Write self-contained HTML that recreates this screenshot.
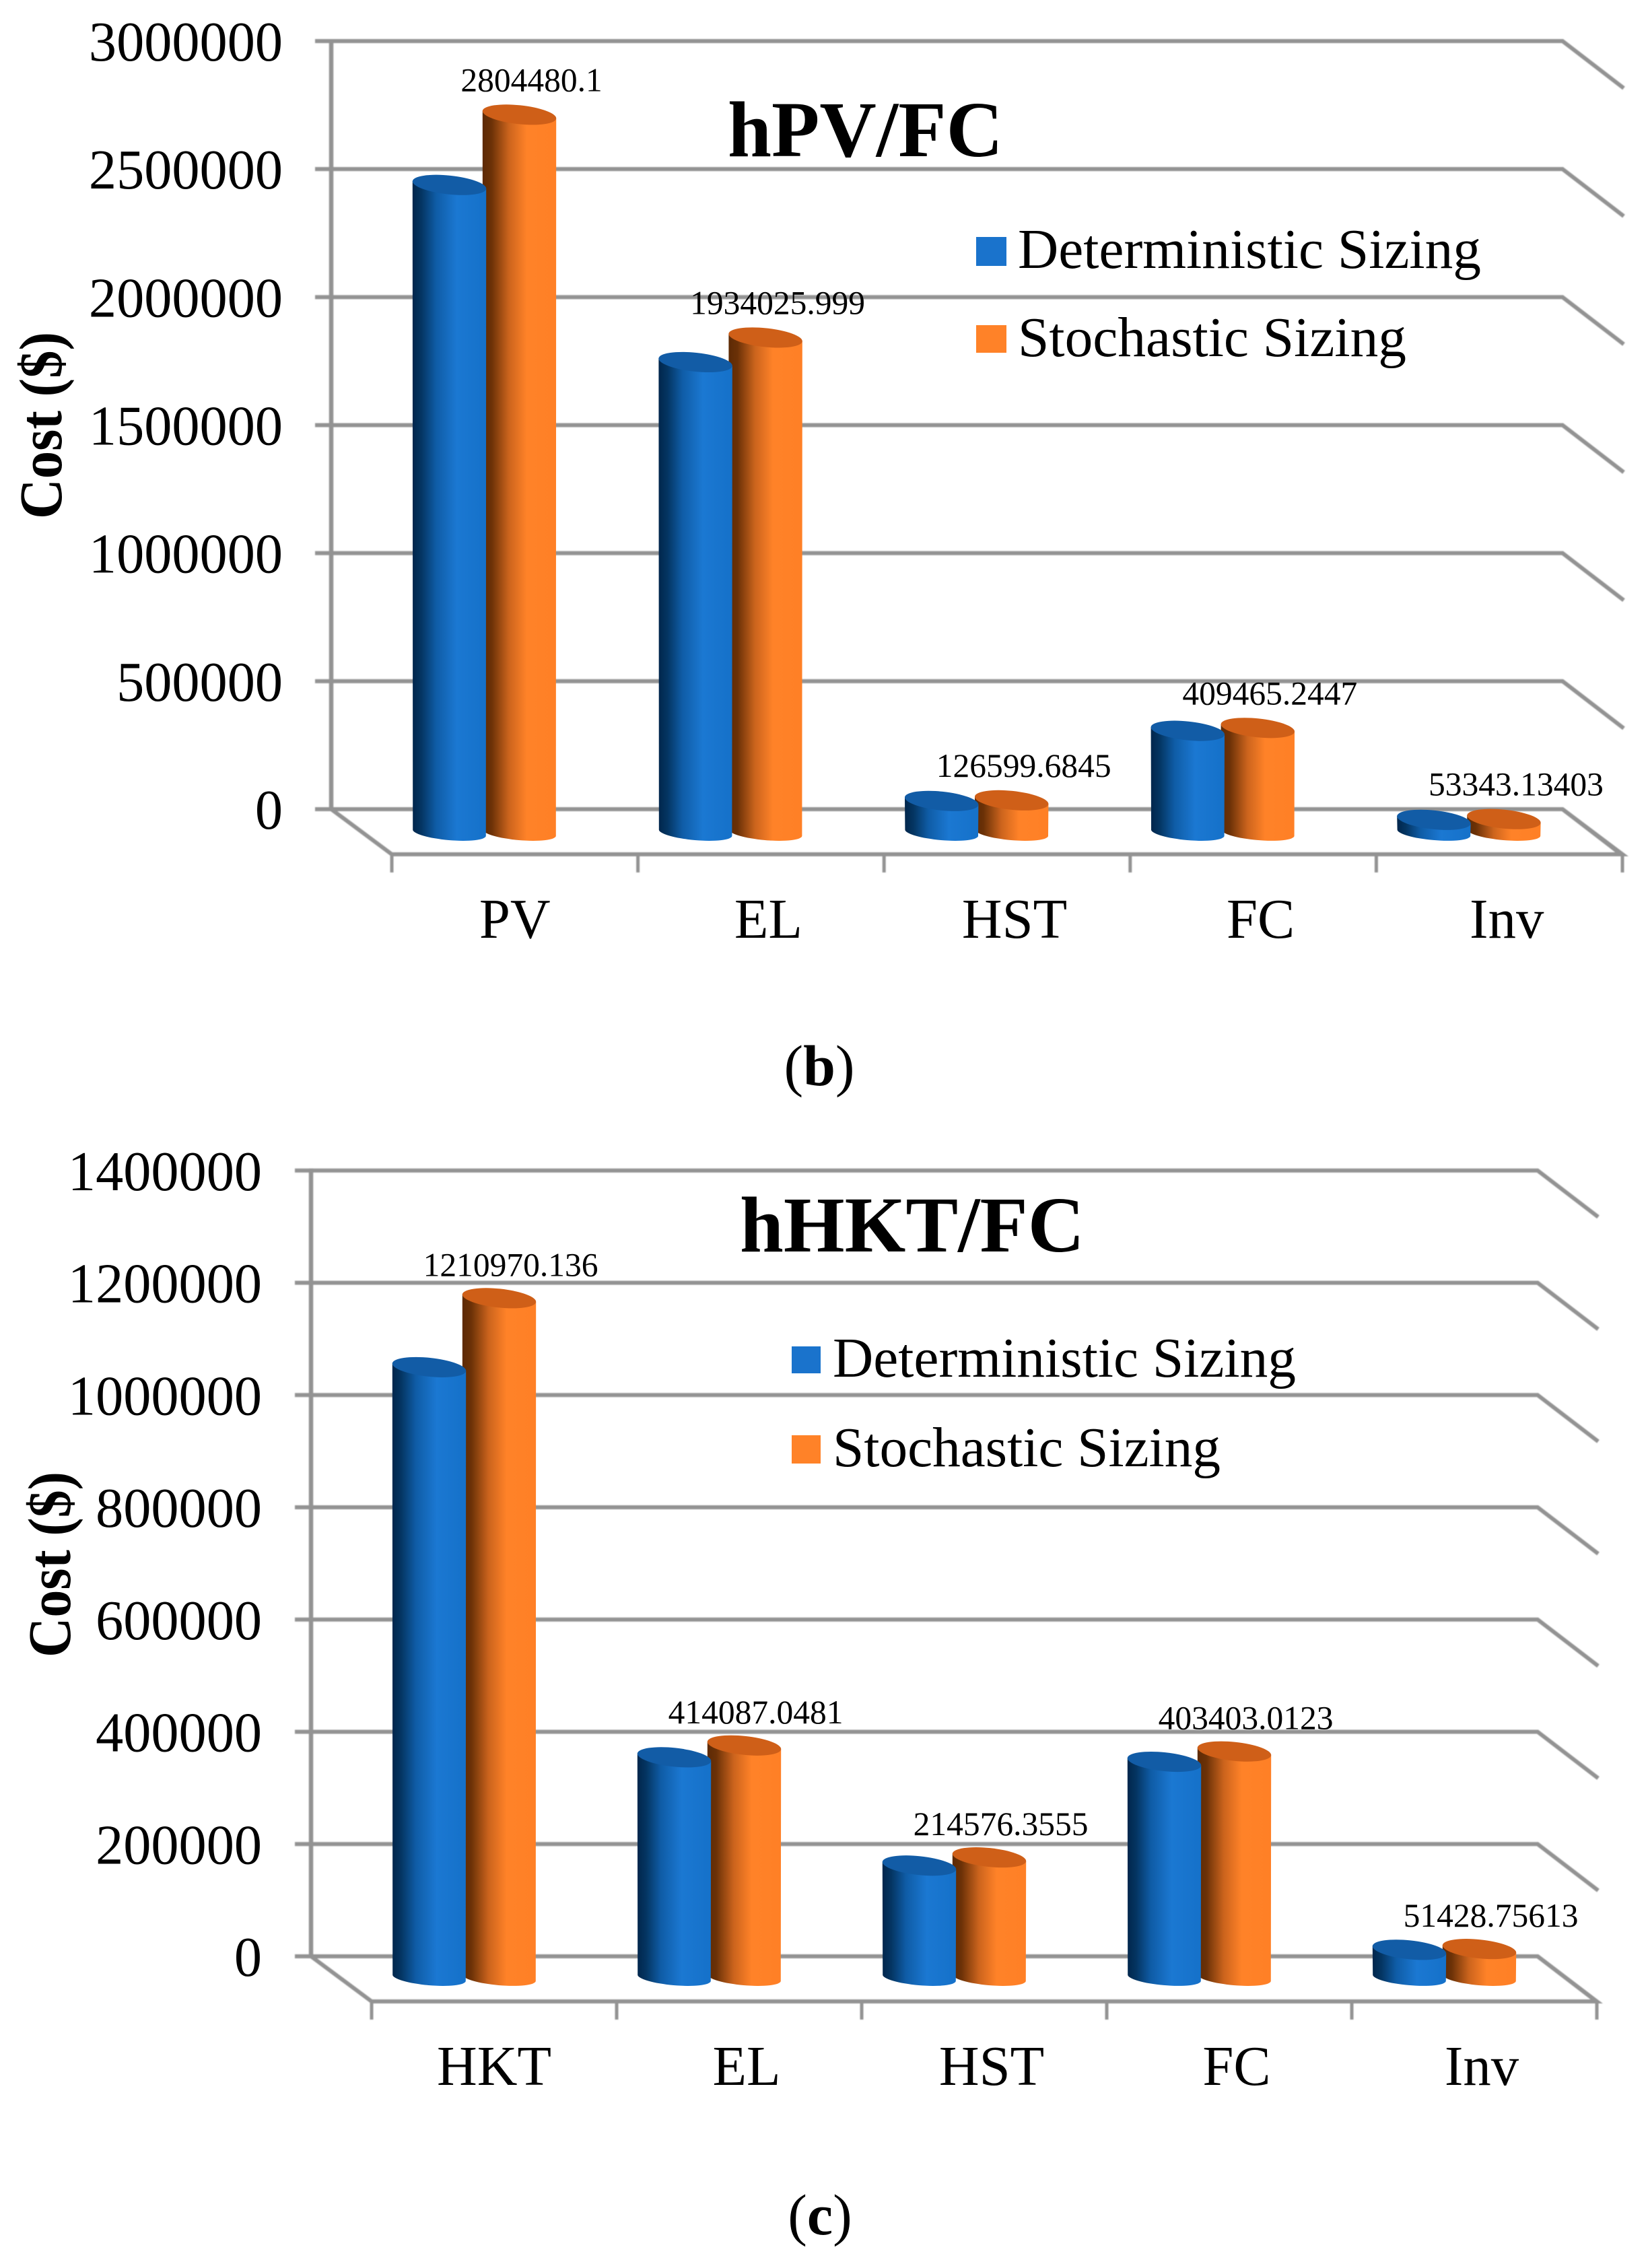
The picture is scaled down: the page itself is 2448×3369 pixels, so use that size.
<!DOCTYPE html>
<html lang="en">
<head>
<meta charset="utf-8">
<title>Cost comparison of deterministic and stochastic sizing</title>
<style>
html,body{margin:0;padding:0;background:#fff;}
svg{display:block;}
text{font-family:"Liberation Serif",serif;fill:#000;}
.bold{font-weight:bold;}
</style>
</head>
<body>
<svg id="figure" xmlns="http://www.w3.org/2000/svg" width="2448" height="3369" viewBox="0 0 2448 3369">
  <defs>
    <linearGradient id="blueBody" x1="0" x2="1" y1="0" y2="0">
      <stop offset="0" stop-color="#01264c"/>
      <stop offset="0.12" stop-color="#043562"/>
      <stop offset="0.32" stop-color="#0f5ca6"/>
      <stop offset="0.6" stop-color="#1b78d2"/>
      <stop offset="1" stop-color="#1571c9"/>
    </linearGradient>
    <linearGradient id="orangeBody" x1="0" x2="1" y1="0" y2="0">
      <stop offset="0" stop-color="#5d2a05"/>
      <stop offset="0.12" stop-color="#6b3107"/>
      <stop offset="0.36" stop-color="#cc641d"/>
      <stop offset="0.6" stop-color="#ff8228"/>
      <stop offset="1" stop-color="#ff8026"/>
    </linearGradient>
    <filter id="soft" filterUnits="userSpaceOnUse" x="0" y="0" width="2448" height="3369">
      <feGaussianBlur stdDeviation="0.7"/>
    </filter>
  </defs>
  <rect x="0" y="0" width="2448" height="3369" fill="#ffffff"/>

  <g id="chart-pv"></g>
  <g>
    <text class="bold" x="1081" y="232" font-size="118" textLength="409" lengthAdjust="spacingAndGlyphs">hPV/FC</text>
    <rect x="1450" y="352" width="45" height="43" fill="#1a73cc"/>
    <text x="1512" y="398" font-size="84" textLength="688" lengthAdjust="spacingAndGlyphs">Deterministic Sizing</text>
    <rect x="1450" y="483" width="45" height="41" fill="#ff8228"/>
    <text x="1512" y="529" font-size="84" textLength="577" lengthAdjust="spacingAndGlyphs">Stochastic Sizing</text>
    <text class="bold" transform="translate(91,632) rotate(-90)" text-anchor="middle" font-size="90" textLength="278" lengthAdjust="spacingAndGlyphs">Cost ($)</text>
    <text x="1217" y="1612" text-anchor="middle" font-size="86">(<tspan class="bold">b</tspan>)</text>
  </g>

  <g id="chart-hkt"></g>
  <g>
    <text class="bold" x="1099" y="1859" font-size="118" textLength="512" lengthAdjust="spacingAndGlyphs">hHKT/FC</text>
    <rect x="1176" y="2000" width="43" height="40" fill="#1a73cc"/>
    <text x="1237" y="2045" font-size="84" textLength="688" lengthAdjust="spacingAndGlyphs">Deterministic Sizing</text>
    <rect x="1176" y="2132" width="43" height="42" fill="#ff8228"/>
    <text x="1237" y="2178" font-size="84" textLength="576" lengthAdjust="spacingAndGlyphs">Stochastic Sizing</text>
    <text class="bold" transform="translate(104,2324) rotate(-90)" text-anchor="middle" font-size="90" textLength="276" lengthAdjust="spacingAndGlyphs">Cost ($)</text>
    <text x="1218" y="3319" text-anchor="middle" font-size="86">(<tspan class="bold">c</tspan>)</text>
  </g>
</svg>
<script>
const pvCategories = ['PV', 'EL', 'HST', 'FC', 'Inv'];
const pvTicks = [0, 500000, 1000000, 1500000, 2000000, 2500000, 3000000];
const pvDeterministic = [2530000, 1838000, 124000, 398000, 50500];
const pvStochastic = [2804480.1, 1934025.999, 126599.6845, 409465.2447, 53343.13403];

const hktCategories = ['HKT', 'EL', 'HST', 'FC', 'Inv'];
const hktTicks = [0, 200000, 400000, 600000, 800000, 1000000, 1200000, 1400000];
const hktDeterministic = [1088000, 393000, 200000, 385000, 50000];
const hktStochastic = [1210970.136, 414087.0481, 214576.3555, 403403.0123, 51428.75613];

const NS = 'http://www.w3.org/2000/svg';
const GRID = '#939393';

function make(parent, tag, attrs, text) {
  const el = document.createElementNS(NS, tag);
  for (const k in attrs) el.setAttribute(k, attrs[k]);
  if (text !== undefined) el.textContent = text;
  parent.appendChild(el);
  return el;
}

function drawCylinder(parent, cx, topY, baseY, bodyFill, capFill, kind) {
  const rx = 55, ry = 14, rot = 6, rad = rot * Math.PI / 180;
  const brx = 54.5, bry = 11, brot = 5, brad = brot * Math.PI / 180;
  const tipX = rx * Math.cos(rad), tipY = rx * Math.sin(rad);
  const bTipX = brx * Math.cos(brad), bTipY = brx * Math.sin(brad);
  const by = baseY;
  const d = 'M' + (cx - tipX) + ' ' + (topY - tipY) +
    ' L' + (cx - bTipX) + ' ' + (by - bTipY) +
    ' A' + brx + ' ' + bry + ' ' + brot + ' 0 0 ' + (cx + bTipX) + ' ' + (by + bTipY) +
    ' L' + (cx + tipX) + ' ' + (topY + tipY) + ' Z';
  const body = make(parent, 'path', { d: d, fill: bodyFill });
  
  
  const cap = make(parent, 'ellipse', {
    cx: cx, cy: topY, rx: rx, ry: ry, fill: capFill,
    transform: 'rotate(' + rot + ' ' + cx + ' ' + topY + ')'
  });
  
  
}

function drawChart(rootId, cfg, categories, ticks, deterministic, stochastic) {
  const root = document.getElementById(rootId);
  const yPos = function (v) { return cfg.zeroY - v * cfg.pxPerUnit; };
  const xTick = function (i) { return cfg.floorX + i * cfg.catStep; };
  const barTop = function (v) { return cfg.baseY - v * cfg.pxPerUnit; };
  const maxTick = ticks[ticks.length - 1];

  const lines = make(root, 'g', { filter: 'url(#soft)' });
  
  

  const wall = make(lines, 'line', {
    x1: cfg.wallX, x2: cfg.wallX, y1: yPos(maxTick) - 3, y2: yPos(0) + 3,
    stroke: GRID, 'stroke-width': 6.5
  });
  
  

  ticks.forEach(function (t) {
    const y = yPos(t);
    const grid = make(lines, 'polyline', {
      points: (cfg.wallX - 24) + ',' + y + ' ' + cfg.wallEndX + ',' + y + ' ' + (cfg.wallEndX + cfg.depthX) + ',' + (y + cfg.depthY),
      fill: 'none', stroke: GRID, 'stroke-width': 6
    });
    
    
    const label = make(root, 'text', {
      transform: 'translate(' + cfg.tickLabelX + ',' + (y + 29) + ') scale(0.98,1)',
      'text-anchor': 'end', 'font-size': 84
    }, String(t));
    
    
  });

  const floor = make(lines, 'polyline', {
    points: cfg.wallX + ',' + yPos(0) + ' ' + cfg.floorX + ',' + cfg.floorY + ' ' + xTick(categories.length) + ',' + cfg.floorY + ' ' + cfg.wallEndX + ',' + yPos(0),
    fill: 'none', stroke: GRID, 'stroke-width': 6
  });
  
  

  for (let i = 0; i <= categories.length; i++) {
    const tick = make(lines, 'line', {
      x1: xTick(i), x2: xTick(i), y1: cfg.floorY, y2: cfg.floorY + 27,
      stroke: GRID, 'stroke-width': 5
    });
    
    
  }

  categories.forEach(function (c, i) {
    const oCx = xTick(i) + 135 + 54.5;
    const bCx = xTick(i) + 31 + 54.5;
    const group = make(root, 'g', {});
    
    
    drawCylinder(group, oCx, barTop(stochastic[i]), cfg.baseY, 'url(#orangeBody)', '#cf5f18', 'stochastic');
    drawCylinder(group, bCx, barTop(deterministic[i]), cfg.baseY, 'url(#blueBody)', '#125ca6', 'deterministic');
    const value = make(root, 'text', {
      x: oCx + cfg.valueDx, y: barTop(stochastic[i]) + cfg.valueDy,
      'text-anchor': 'middle', 'font-size': 49.5
    }, String(stochastic[i]));
    
    
    const labelX = xTick(i) + cfg.catStep / 2 + (i === 0 ? 0 : 11);
    const cat = make(root, 'text', {
      transform: 'translate(' + labelX + ',' + cfg.catLabelY + ') scale(0.985,1)',
      'text-anchor': 'middle', 'font-size': 84
    }, c);
    
    
  });
}

drawChart('chart-pv', {
  zeroY: 1202, pxPerUnit: 190.17 / 500000, baseY: 1237,
  wallX: 492, wallEndX: 2321, depthX: 91, depthY: 70,
  floorX: 582, floorY: 1269, catStep: 365.6,
  tickLabelX: 420, catLabelY: 1393,
  valueDx: 18, valueDy: -35
}, pvCategories, pvTicks, pvDeterministic, pvStochastic);

drawChart('chart-hkt', {
  zeroY: 2906, pxPerUnit: 166.75 / 200000, baseY: 2938,
  wallX: 462, wallEndX: 2284, depthX: 90, depthY: 69,
  floorX: 552, floorY: 2973, catStep: 364,
  tickLabelX: 389, catLabelY: 3097,
  valueDx: 17, valueDy: -33
}, hktCategories, hktTicks, hktDeterministic, hktStochastic);
</script>
</body>
</html>
